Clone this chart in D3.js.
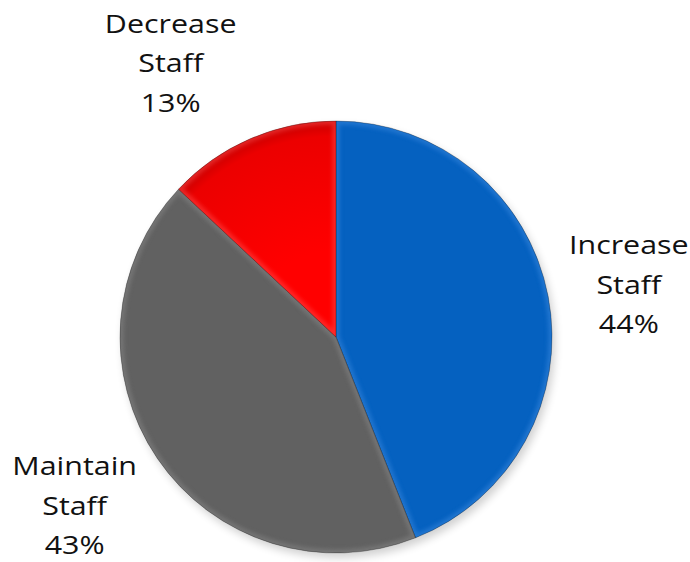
<!DOCTYPE html>
<html>
<head>
<meta charset="utf-8">
<script src="https://cdn.jsdelivr.net/npm/d3@7"></script>
<style>
  body { margin: 0; background: #fff; }
  text { font-family: "Open Sans", Lato, sans-serif; fill: #111; }
</style>
</head>
<body>
<svg id="svg1" width="690" height="562"></svg>
<script>
// data
var categories = ["Increase Staff", "Maintain Staff", "Decrease Staff"];
var values = [44, 43, 13];
var colors = ["#0561c0", "#616161", "#f00000"];
var edgeColors = ["#3d8be0", "#8a8a8a", "#ff5050"];

var svg = d3.select("#svg1");
var cx = 336, cy = 337, radius = 216;

var data = categories.map(function(c, i) {
  return {name: c, value: values[i], color: colors[i], edge: edgeColors[i]};
});

var pie = d3.pie()
    .sort(null)
    .value(function(d) { return d.value; });

var arc = d3.arc()
    .innerRadius(0)
    .outerRadius(radius);

var defs = svg.append("defs");

var blur = defs.append("filter").attr("id", "blur")
    .attr("x", "-10%").attr("y", "-10%").attr("width", "120%").attr("height", "120%");
blur.append("feGaussianBlur").attr("stdDeviation", 2.2);

var shadow = defs.append("filter").attr("id", "shadow")
    .attr("x", "-20%").attr("y", "-20%").attr("width", "140%").attr("height", "140%");
shadow.append("feGaussianBlur").attr("stdDeviation", 4);

// red slice a bit darker at the rim (coords are in the pie group's space)
var rg = defs.append("radialGradient").attr("id", "grad2")
    .attr("gradientUnits", "userSpaceOnUse")
    .attr("cx", 0).attr("cy", 0).attr("r", radius);
rg.append("stop").attr("offset", "0.4").attr("stop-color", "#ff0000");
rg.append("stop").attr("offset", "0.93").attr("stop-color", "#ec0000");
rg.append("stop").attr("offset", "1").attr("stop-color", "#c80000");

var arcs = pie(data);

var g = svg.append("g")
    .attr("transform", "translate(" + cx + "," + cy + ")");

// soft shadow
g.append("circle")
    .attr("cx", 3).attr("cy", 5).attr("r", radius)
    .attr("fill", "#000").attr("opacity", 0.18)
    .attr("filter", "url(#shadow)");

arcs.forEach(function(d, i) {
  defs.append("clipPath").attr("id", "clip" + i)
    .append("path").attr("d", arc(d));
});

var slices = g.selectAll(".slice")
    .data(arcs)
  .enter().append("g")
    .attr("class", "slice");

slices.append("path")
    .attr("d", arc)
    .attr("fill", function(d, i) { return i == 2 ? "url(#grad2)" : d.data.color; });

// bevel highlight along the edges
slices.append("path")
    .attr("d", arc)
    .attr("fill", "none")
    .attr("stroke", function(d) { return d.data.edge; })
    .attr("stroke-width", 7)
    .attr("opacity", 0.5)
    .attr("clip-path", function(d, i) { return "url(#clip" + i + ")"; })
    .attr("filter", "url(#blur)");

slices.append("path")
    .attr("d", arc)
    .attr("fill", "none")
    .attr("stroke", "rgba(0,0,0,0.35)")
    .attr("stroke-width", 0.8);

// labels
var labelRadius = [296, 316, 312];
var labelShift = [2.4, 0, -8.6];   // degrees
var lineH = 39.5;

arcs.forEach(function(d, i) {
  var a = (d.startAngle + d.endAngle) / 2 + labelShift[i] * Math.PI / 180;
  var x = Math.sin(a) * labelRadius[i];
  var y = -Math.cos(a) * labelRadius[i];
  var words = d.data.name.split(" ");
  var lines = [words[0], words[1], d.data.value + "%"];
  // the original text is slightly stretched sideways
  var t = g.append("text")
      .attr("transform", "translate(" + x + "," + y + ") scale(1.17,1)")
      .attr("text-anchor", "middle")
      .attr("font-size", 26);
  lines.forEach(function(l, j) {
    t.append("tspan")
        .attr("x", 0)
        .attr("y", (j - 1) * lineH)
        .text(l);
  });
});
</script>
</body>
</html>
